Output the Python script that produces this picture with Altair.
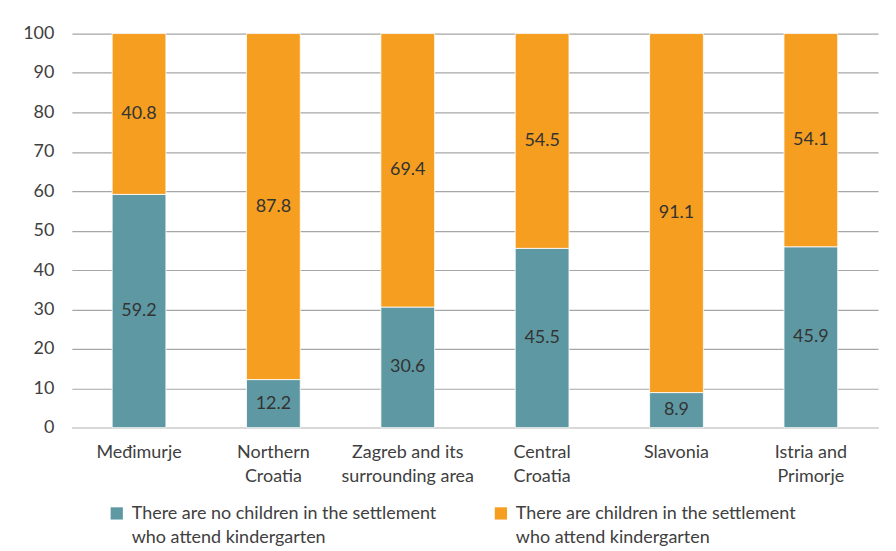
import altair as alt
import pandas as pd

categories = ["Međimurje", "Northern\nCroatia", "Zagreb and its\nsurrounding area",
              "Central\nCroatia", "Slavonia", "Istria and\nPrimorje"]
series = ["There are no children in the settlement\nwho attend kindergarten",
          "There are children in the settlement\nwho attend kindergarten"]
no_children = [59.2, 12.2, 30.6, 45.5, 8.9, 45.9]
children = [40.8, 87.8, 69.4, 54.5, 91.1, 54.1]
y_ticks = [0, 10, 20, 30, 40, 50, 60, 70, 80, 90, 100]
colors = ["#5E99A3", "#F59E1F"]

rows = []
for i, c in enumerate(categories):
    rows.append({"cat": c, "series": series[0], "value": no_children[i], "ord": 0})
    rows.append({"cat": c, "series": series[1], "value": children[i], "ord": 1})
df = pd.DataFrame(rows)

FONT = "Lato"
FS = 18
base = alt.Chart(df).transform_stack(
    stack="value", groupby=["cat"], as_=["v0", "v1"],
    sort=[alt.SortField("ord", order="ascending")]
).transform_calculate(mid="(datum.v0 + datum.v1) / 2")

xscale = alt.Scale(paddingInner=0.6, paddingOuter=0.3)
yscale = alt.Scale(domain=[0, 100])
xaxis = alt.Axis(labelAngle=0, labelExpr="split(datum.label, '\\n')",
                 labelFontSize=FS, labelColor="#404040", labelFont=FONT,
                 labelPadding=16, labelLineHeight=24, ticks=False,
                 domain=True, domainColor="#D9D9D9", domainWidth=1.5,
                 labelBaseline="top", grid=False)
yaxis = alt.Axis(values=y_ticks, labelFontSize=FS,
                 labelColor="#404040", labelFont=FONT, ticks=False,
                 domain=False, labelPadding=18, grid=True, gridColor="#A6A6A6",
                 gridWidth=1.2, minExtent=45, maxExtent=45)

bars = base.mark_bar(stroke="white", strokeWidth=0.8).encode(
    x=alt.X("cat:N", sort=categories, title=None, scale=xscale, axis=xaxis),
    y=alt.Y("v0:Q", scale=yscale, title=None, axis=yaxis),
    y2="v1:Q",
    color=alt.Color("series:N", sort=series,
                    scale=alt.Scale(domain=series, range=colors),
                    legend=alt.Legend(title=None, orient="none", legendX=36, legendY=464,
                                      direction="horizontal",
                                      columns=2,
                                      symbolType="M-1,0.3L1,0.3L1,2.3L-1,2.3Z",
                                      symbolSize=150,
                                      symbolStrokeWidth=0, labelFontSize=FS,
                                      labelFont=FONT, labelColor="#404040",
                                      labelExpr="split(datum.label, '\\n')",
                                      labelLimit=500, labelBaseline="top",
                                      labelOffset=6, columnPadding=55,
                                      symbolOffset=0)),
    order=alt.Order("ord:Q"),
)

texts = base.mark_text(fontSize=FS, font=FONT, color="#333333").encode(
    x=alt.X("cat:N", sort=categories, title=None, scale=xscale, axis=xaxis),
    y=alt.Y("mid:Q", scale=yscale, title=None, axis=yaxis),
    text=alt.Text("value:Q", format=".1f"),
)

chart = alt.layer(bars, texts).properties(
    width=808, height=395,
    padding={"left": 14, "top": 16, "right": 10, "bottom": 5},
).configure(
    view=alt.ViewConfig(stroke=None),
    style={"guide-label": {"lineHeight": 24, "fill": "#404040", "font": FONT,
                           "fontSize": FS},
           "guide-title": {"font": FONT, "fontSize": FS}},
)

chart.save("out.html", embed_options={"renderer": "svg", "actions": False})
